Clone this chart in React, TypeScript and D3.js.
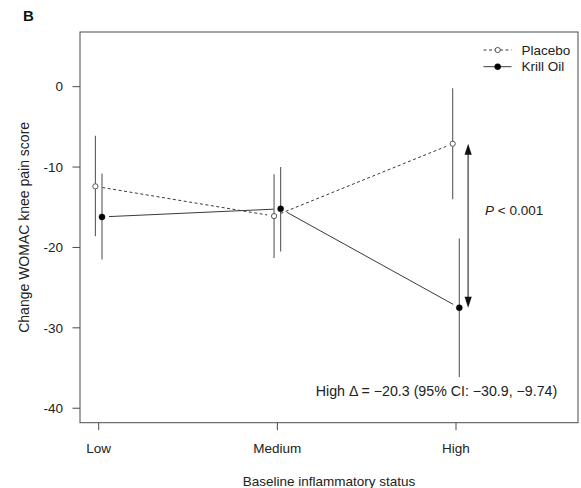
import React from 'react';
import * as d3 from 'd3';

const categories = ['Low', 'Medium', 'High'];
const seriesNames = ['Placebo', 'Krill Oil'];
const placeboMean = [-12.4, -16.1, -7.1];
const placeboLower = [-18.6, -21.3, -14.0];
const placeboUpper = [-6.1, -10.9, -0.2];
const krillMean = [-16.2, -15.2, -27.5];
const krillLower = [-21.5, -20.5, -36.1];
const krillUpper = [-10.8, -10.0, -18.9];
const yTicks = [0, -10, -20, -30, -40];
const xTitle = 'Baseline inflammatory status';
const yTitle = 'Change WOMAC knee pain score';
const panelLabel = 'B';
const pLabel = '< 0.001';
const deltaLabel = 'High \u0394 = \u221220.3 (95% CI: \u221230.9, \u22129.74)';

const W = 581;
const H = 488;
const box = { left: 80, right: 578, top: 32, bottom: 422.7 };
const FONT = '"Liberation Sans", Arial, Helvetica, sans-serif';
const FS = 13.5;

const x = d3.scaleLinear().domain([1, 3]).range([98.7, 456]);
const y = d3.scaleLinear().domain([-41.8, 6.8]).range([box.bottom, box.top]);
const OFF = 0.0185;
const GAP = 7;

function gapSeg(x1: number, y1: number, x2: number, y2: number, g: number) {
  const dx = x2 - x1, dy = y2 - y1;
  const L = Math.hypot(dx, dy);
  const ux = dx / L, uy = dy / L;
  return { x1: x1 + ux * g, y1: y1 + uy * g, x2: x2 - ux * g, y2: y2 - uy * g };
}

type Series = { name: string; mean: number[]; lo: number[]; hi: number[]; off: number; filled: boolean; dash?: string };

const series: Series[] = [
  { name: seriesNames[0], mean: placeboMean, lo: placeboLower, hi: placeboUpper, off: -OFF, filled: false, dash: '3,2.5' },
  { name: seriesNames[1], mean: krillMean, lo: krillLower, hi: krillUpper, off: OFF, filled: true },
];

export default function App() {
  const lineCol = '#3a3a3a';
  const barCol = '#5a5a5a';
  const axisCol = '#4a4a4a';
  const arrowX = x(3 + 0.068);
  const aTop = y(placeboMean[2]);
  const aBot = y(krillMean[2]);
  const head = 11;
  const hw = 3.6;
  return (
    <svg width={W} height={H} style={{ position: 'absolute', left: 0, top: 0, background: '#fff' }} fontFamily={FONT}>
      <rect x={0} y={0} width={W} height={H} fill="#fff" />
      <text x={23} y={20.5} fontSize={15} fontWeight="bold" fill="#111">{panelLabel}</text>
      {/* box */}
      <rect x={box.left} y={box.top} width={box.right - box.left} height={box.bottom - box.top} fill="none" stroke={axisCol} strokeWidth={1} />
      {/* y axis */}
      {yTicks.map((t) => (
        <g key={t}>
          <line x1={box.left - 7.5} x2={box.left} y1={y(t)} y2={y(t)} stroke={axisCol} />
          <text x={63} y={y(t)} dy="0.35em" textAnchor="end" fontSize={FS} fill="#222">{String(t)}</text>
        </g>
      ))}
      {/* x axis */}
      {categories.map((c, i) => (
        <g key={c}>
          <line x1={x(i + 1)} x2={x(i + 1)} y1={box.bottom} y2={box.bottom + 7.5} stroke={axisCol} />
          <text x={x(i + 1)} y={448} dy="0.35em" textAnchor="middle" fontSize={FS} fill="#222">{c}</text>
        </g>
      ))}
      <text x={(box.left + box.right) / 2} y={481.5} dy="0.35em" textAnchor="middle" fontSize={FS} fill="#222">{xTitle}</text>
      <text transform={`translate(24, ${(box.top + box.bottom) / 2}) rotate(-90)`} dy="0.35em" textAnchor="middle" fontSize={14} fill="#222">{yTitle}</text>
      {/* series */}
      {series.map((s) => (
        <g key={s.name}>
          {s.mean.map((m, i) => (
            <line key={'e' + i} x1={x(i + 1 + s.off)} x2={x(i + 1 + s.off)} y1={y(s.lo[i])} y2={y(s.hi[i])} stroke={barCol} strokeWidth={1.1} />
          ))}
          {s.mean.slice(0, -1).map((m, i) => {
            const g = gapSeg(x(i + 1 + s.off), y(m), x(i + 2 + s.off), y(s.mean[i + 1]), GAP);
            return <line key={'l' + i} {...g} stroke={lineCol} strokeWidth={1} strokeDasharray={s.dash} />;
          })}
          {s.mean.map((m, i) => (
            <circle key={'p' + i} cx={x(i + 1 + s.off)} cy={y(m)} r={s.filled ? 3 : 2.6}
              fill={s.filled ? '#000' : '#fff'} stroke={s.filled ? '#000' : '#555'} strokeWidth={s.filled ? 0.5 : 1} />
          ))}
        </g>
      ))}
      {/* arrow */}
      <line x1={arrowX} x2={arrowX} y1={aTop + head - 1} y2={aBot - head + 1} stroke="#777" strokeWidth={1.8} />
      <path d={`M${arrowX},${aTop} L${arrowX - hw},${aTop + head} L${arrowX + hw},${aTop + head} Z`} fill="#111" />
      <path d={`M${arrowX},${aBot} L${arrowX - hw},${aBot - head} L${arrowX + hw},${aBot - head} Z`} fill="#111" />
      <text x={485} y={210} dy="0.35em" fontSize={FS} fill="#222"><tspan fontStyle="italic">P</tspan> {pLabel}</text>
      <text x={436.5} y={391.5} dy="0.35em" textAnchor="middle" fontSize={14.2} fill="#222">{deltaLabel}</text>
      {/* legend */}
      {series.map((s, i) => {
        const ly = 50 + i * 16.7;
        return (
          <g key={'lg' + i}>
            <line x1={483.5} x2={511.5} y1={ly} y2={ly} stroke={lineCol} strokeDasharray={s.dash} />
            <circle cx={497.7} cy={ly} r={s.filled ? 3 : 2.6} fill={s.filled ? '#000' : '#fff'} stroke={s.filled ? '#000' : '#555'} strokeWidth={s.filled ? 0.5 : 1} />
            <text x={521.5} y={ly} dy="0.35em" fontSize={FS} fill="#222">{s.name}</text>
          </g>
        );
      })}
    </svg>
  );
}
